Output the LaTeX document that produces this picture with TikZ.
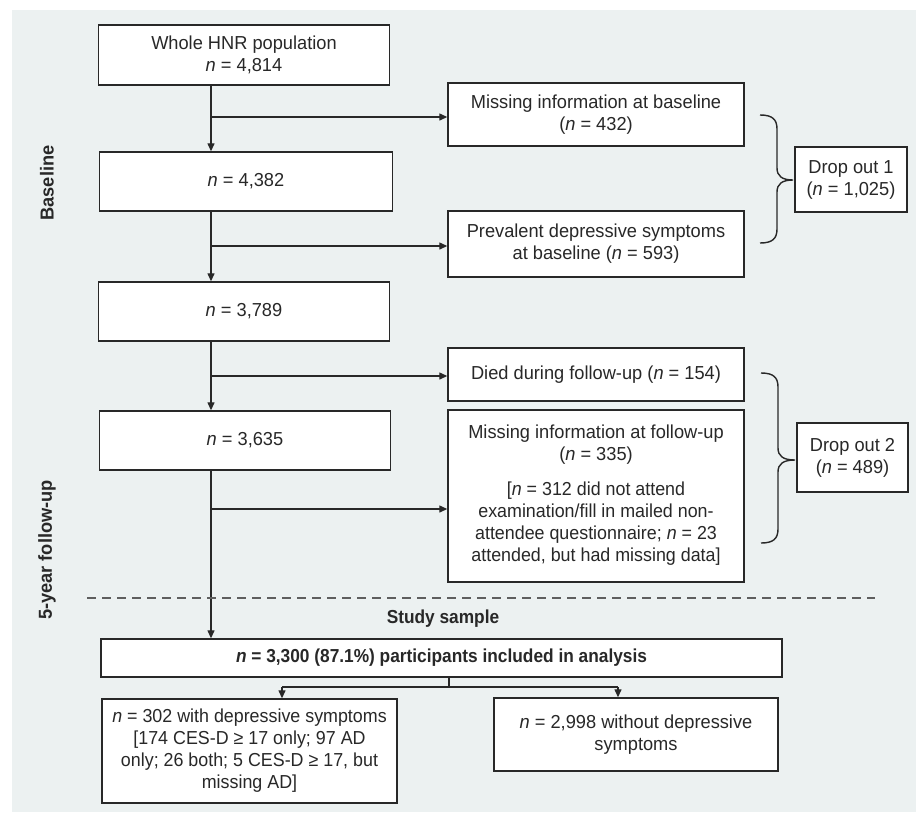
\documentclass[tikz,border=0pt]{standalone}
\usepackage{fontspec}
\setmainfont{Liberation Sans}[FakeStretch=0.97]
\newfontfamily\nfA{Liberation Sans}[FakeStretch=0.92]
\newfontfamily\nfB{Liberation Sans}[FakeStretch=0.95]
\usetikzlibrary{arrows.meta,positioning}
\definecolor{bgc}{RGB}{236,241,241}
\definecolor{ink}{RGB}{40,40,40}
\begin{document}
\begin{tikzpicture}[x=1pt,y=-1pt,
  every node/.style={font=\fontsize{18.8}{22}\selectfont, text=ink},
  box/.style={draw=ink, line width=1.4pt, fill=white, align=center, inner sep=0pt},
  conn/.style={draw=ink, line width=1.3pt},
  arr/.style={conn, -{Triangle[length=8pt,width=7pt]}},
  side/.style={font=\fontsize{18.8}{22}\selectfont\bfseries, rotate=90},
  bracepath/.style={draw=ink, line width=1.4pt}
]
\useasboundingbox (0,0) rectangle (916,812);
\fill[bgc] (12,10) rectangle (916,812);

% main column boxes
\node[box, minimum width=291pt, minimum height=60pt] (b1) at (244,55) {Whole HNR population\\\textit{n} = 4,814};
\node[box, minimum width=293pt, minimum height=59pt] (b2) at (246,181.5) {\textit{n} = 4,382};
\node[box, minimum width=291pt, minimum height=59pt] (b3) at (244,311.5) {\textit{n} = 3,789};
\node[box, minimum width=291pt, minimum height=59pt] (b4) at (245,440.5) {\textit{n} = 3,635};

% right boxes
\node[box, minimum width=296pt, minimum height=63pt] (m1) at (596,114.5) {Missing information at baseline\\(\textit{n} = 432)};
\node[box, minimum width=296pt, minimum height=66pt] (pv) at (596,244) {Prevalent depressive symptoms\\at baseline (\textit{n} = 593)};
\node[box, minimum width=296pt, minimum height=53pt] (di) at (596,374.5) {Died during follow-up (\textit{n} = 154)};
\node[box, minimum width=296pt, minimum height=172pt, text depth=6pt] (mf) at (596,496) {Missing information at follow-up\\(\textit{n} = 335)\\[13pt]{\nfB{[}\textit{n} = 312 did not attend}\\{\nfB examination/fill in mailed non-}\\{\nfB attendee questionnaire; \textit{n} = 23}\\{\nfB attended, but had missing data]}};

% drop out boxes
\node[box, minimum width=112pt, minimum height=65pt] (d1) at (851,179.5) {Drop out 1\\(\textit{n} = 1,025)};
\node[box, minimum width=111pt, minimum height=69pt] (d2) at (852.5,457.5) {Drop out 2\\(\textit{n} = 489)};

% side labels
\node[side] (lbase) at (47,183) {Baseline};
\node[side] (lfol) at (47,550) {5-year follow-up};

% study sample
\node[font=\fontsize{18.8}{22}\selectfont\nfA\bfseries] (ss) at (443,619) {Study sample};
\node[box, minimum width=681pt, minimum height=38pt, font=\fontsize{18.8}{22}\selectfont\nfA\bfseries] (sb) at (441.5,658) {\textit{n} = 3,300 (87.1\%) participants included in analysis};
\node[box, minimum width=295pt, minimum height=104pt, font=\fontsize{18.8}{22}\selectfont\nfB] (lb) at (249.5,751) {\textit{n} = 302 with depressive symptoms\\{[}174 CES-D ≥ 17 only; 97 AD\\only; 26 both; 5 CES-D ≥ 17, but\\missing AD]};
\node[box, minimum width=284pt, minimum height=73pt] (rb) at (636,734.5) {\textit{n} = 2,998 without depressive\\symptoms};

% main vertical connectors
\draw[arr] (b1.south -| 211,0) -- (b2.north -| 211,0);
\draw[arr] (b2.south -| 211,0) -- (b3.north -| 211,0);
\draw[arr] (b3.south -| 211,0) -- (b4.north -| 211,0);
\draw[arr] (b4.south -| 211,0) -- (sb.north -| 211,0);

% branches
\coordinate (j1) at (211,117);
\coordinate (j2) at (211,246);
\coordinate (j3) at (211,376);
\coordinate (j4) at (211,509);
\draw[arr] (j1) -- (j1 -| m1.west);
\draw[arr] (j2) -- (j2 -| pv.west);
\draw[arr] (j3) -- (j3 -| di.west);
\draw[arr] (j4) -- (j4 -| mf.west);

% dashed separator
\coordinate (dsA) at (87,598);
\coordinate (dsB) at (875,598);
\draw[draw=ink!75, line width=1.1pt, dash pattern=on 9pt off 6pt] (dsA) -- (dsB);

% split below study sample
\coordinate (sp) at (449,687);
\coordinate (spL) at (282,687);
\coordinate (spR) at (618,687);
\draw[conn] (sb.south -| sp) -- (sp);
\draw[conn] (spL) -- (spR);
\draw[arr] (spL) -- (spL |- lb.north);
\draw[arr] (spR) -- (spR |- rb.north);

% braces
\draw[bracepath] (760,115) .. controls (772,115) and (777,119) .. (777,129)
  -- (777,168) .. controls (777,176) and (782,180) .. (793,180)
  .. controls (782,180) and (777,184) .. (777,192)
  -- (777,229) .. controls (777,239) and (772,243) .. (760,243);
\draw[bracepath] (761,373) .. controls (773,373) and (778,377) .. (778,387)
  -- (778,448) .. controls (778,456) and (783,460) .. (795,460)
  .. controls (783,460) and (778,464) .. (778,472)
  -- (778,529) .. controls (778,539) and (773,543) .. (761,543);
\end{tikzpicture}
\end{document}
